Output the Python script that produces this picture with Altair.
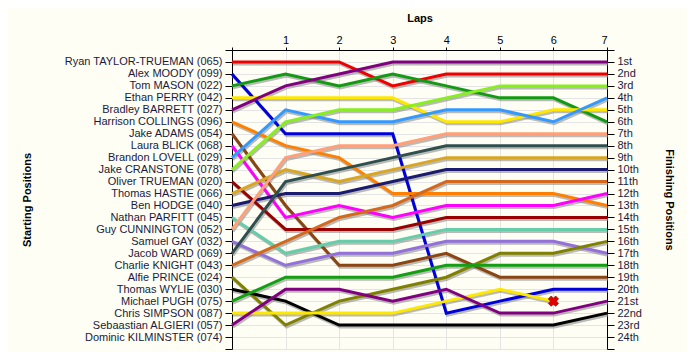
import altair as alt
import pandas as pd

names = [
    "Ryan TAYLOR-TRUEMAN (065)", "Alex MOODY (099)", "Tom MASON (022)", "Ethan PERRY (042)",
    "Bradley BARRETT (027)", "Harrison COLLINGS (096)", "Jake ADAMS (054)", "Laura BLICK (068)",
    "Brandon LOVELL (029)", "Jake CRANSTONE (078)", "Oliver TRUEMAN (020)", "Thomas HASTIE (066)",
    "Ben HODGE (040)", "Nathan PARFITT (045)", "Guy CUNNINGTON (052)", "Samuel GAY (032)",
    "Jacob WARD (069)", "Charlie KNIGHT (043)", "Alfie PRINCE (024)", "Thomas WYLIE (030)",
    "Michael PUGH (075)", "Chris SIMPSON (087)", "Sebaastian ALGIERI (057)", "Dominic KILMINSTER (074)",
]
colors = [
    "#ee0000", "#0000dd", "#139a13", "#ffe800", "#800080", "#ff8000", "#8b4513", "#ff00ff",
    "#3399ff", "#88ee22", "#990000", "#daa520", "#1a1a70", "#66cdaa", "#ffa07a", "#9370db",
    "#2f4f4f", "#d2691e", "#808000", "#000000", "#12a012", "#ffe800", "#800080",
]
ordinals = ["1st", "2nd", "3rd"] + [f"{i}th" for i in range(4, 21)] + ["21st", "22nd", "23rd", "24th"]

# position of each driver (in starting order) at the end of each lap
lap0 = [1, 2, 3, 4, 5, 6, 7, 8, 9, 10, 11, 12, 13, 14, 15, 16, 17, 18, 19, 20, 21, 22, 23]
lap1 = [1, 7, 2, 4, 3, 8, 13, 14, 5, 6, 15, 10, 12, 17, 9, 18, 11, 16, 23, 21, 19, 22, 20]
lap2 = [1, 7, 3, 4, 2, 9, 18, 13, 6, 5, 15, 11, 12, 16, 8, 17, 10, 14, 21, 23, 19, 22, 20]
lap3 = [3, 7, 2, 4, 1, 12, 18, 14, 6, 5, 15, 10, 11, 16, 8, 17, 9, 13, 20, 23, 19, 22, 21]
lap4 = [2, 22, 3, 6, 1, 12, 17, 13, 5, 4, 14, 9, 10, 15, 7, 16, 8, 11, 19, 23, 18, 21, 20]
lap5 = [2, 21, 4, 6, 1, 12, 19, 13, 5, 3, 14, 9, 10, 15, 7, 16, 8, 11, 17, 23, 18, 20, 22]
lap6 = [2, 20, 4, 5, 1, 12, 19, 13, 6, 3, 14, 9, 10, 15, 7, 16, 8, 11, 17, 23, 18, 21, 22]
lap7 = [2, 20, 6, 5, 1, 13, 19, 12, 4, 3, 14, 9, 10, 15, 7, 17, 8, 11, 16, 22, 18, None, 21]
all_laps = [lap0, lap1, lap2, lap3, lap4, lap5, lap6, lap7]

dnf_lap = [6]
dnf_pos = [21]

rows = []
for lap, positions in enumerate(all_laps):
    for i, p in enumerate(positions):
        if p is not None:
            rows.append({"driver": names[i], "lap": lap, "pos": p})
df = pd.DataFrame(rows)
dnf_df = pd.DataFrame({"lap": dnf_lap, "pos": dnf_pos})

left_arr = "[" + ",".join("'" + n + "'" for n in [""] + names + [""]) + "]"
right_arr = "[" + ",".join("'" + n + "'" for n in [""] + ordinals + [""]) + "]"

FONT = "Liberation Sans"
LABEL_COLOR = "#1a1a40"

x_enc = alt.X(
    "lap:Q",
    scale=alt.Scale(domain=[0, 7], nice=False, zero=False),
    axis=alt.Axis(
        orient="top", values=list(range(8)),
        labelExpr="datum.value == 0 ? '' : datum.label",
        title="Laps", titleFont=FONT, titleFontSize=11, titleFontWeight="bold",
        titleColor="black", titlePadding=11,
        labelFont=FONT, labelFontSize=11, labelColor="black", labelPadding=2,
        tickSize=3, tickColor="black", domainColor="black",
        grid=True, gridColor="#e4e4e4",
    ),
)

y_scale = alt.Scale(domain=[0, 25], reverse=True, nice=False, zero=False)

shadow = alt.Chart(df).mark_line(
    color="#8c8c8c", strokeWidth=3, opacity=0.6, xOffset=1, yOffset=2
).encode(
    x=x_enc,
    y=alt.Y(
        "pos:Q", scale=y_scale,
        axis=alt.Axis(
            orient="left", values=list(range(26)),
            labelExpr=left_arr + "[datum.value]",
            title="Starting Positions", titleFont=FONT, titleFontSize=11,
            titleFontWeight="bold", titleColor="black", titlePadding=32,
            labelFont=FONT, labelFontSize=11, labelColor=LABEL_COLOR, labelPadding=3,
            tickSize=7, tickColor="black", domainColor="black",
            grid=True, gridColor="#e4e4e4",
        ),
    ),
    detail="driver:N",
    order="lap:Q",
)

lines = alt.Chart(df).mark_line(strokeWidth=3).encode(
    x=x_enc,
    y=alt.Y(
        "pos:Q", scale=y_scale,
        axis=alt.Axis(
            orient="right", values=list(range(26)),
            labelExpr=right_arr + "[datum.value]",
            title="Finishing Positions", titleFont=FONT, titleFontSize=11,
            titleFontWeight="bold", titleColor="black", titlePadding=22, titleAngle=90,
            labelFont=FONT, labelFontSize=11, labelColor=LABEL_COLOR, labelPadding=3,
            tickSize=7, tickColor="black", domainColor="black",
            grid=False,
        ),
    ),
    color=alt.Color("driver:N", scale=alt.Scale(domain=names[:23], range=colors), legend=None),
    order="lap:Q",
)

marker = alt.Chart(dnf_df).mark_point(
    shape="cross", angle=45, filled=True, size=110, color="#e00000",
    stroke="#800000", strokeWidth=0.6, opacity=1,
).encode(
    x=x_enc,
    y=alt.Y("pos:Q", scale=y_scale, axis=None),
)

chart = alt.layer(shadow, lines, marker).resolve_scale(y="independent").properties(
    width=375, height=299,
    autosize=alt.AutoSizeParams(type="none"),
    padding={"left": 224, "top": 42, "right": 80, "bottom": 3},
    background="#fefef4",
).configure_view(stroke=None, fill="#fefef4")

chart.save("out.html", embed_options={"renderer": "svg", "actions": False})
